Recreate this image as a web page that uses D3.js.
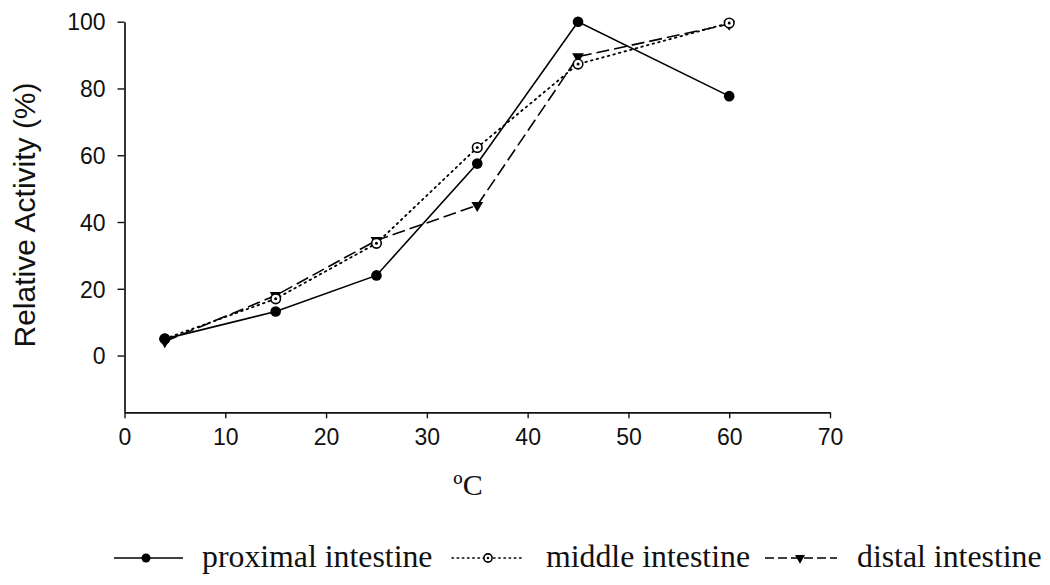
<!DOCTYPE html>
<html>
<head>
<meta charset="utf-8">
<script src="https://cdn.jsdelivr.net/npm/d3@7/dist/d3.min.js"></script>
<style>
  html, body { margin: 0; padding: 0; background: #fff; }
  svg { display: block; }
</style>
</head>
<body>
<svg id="chart" width="1050" height="585"></svg>
<script>
// Temperature (°C) at which activity was measured
const temps = [4, 15, 25, 35, 45, 60];

// Relative activity (%) for each intestinal section
const proximal = [5, 13.2, 24, 57.5, 100, 77.7];
const middle   = [5, 17, 33.6, 62.3, 87.3, 99.6];
const distal   = [4.2, 18, 34.5, 45, 89.5, 99.3];

const xTicks = [0, 10, 20, 30, 40, 50, 60, 70];
const yTicks = [0, 20, 40, 60, 80, 100];

const seriesNames = ["proximal intestine", "middle intestine", "distal intestine"];

const svg = d3.select("#chart");

const x = d3.scaleLinear().domain([0, 70]).range([124.5, 830]);
const y = d3.scaleLinear().domain([-17, 100]).range([412.3, 21.7]);

// Axes
const xAxis = svg.append("g")
  .attr("transform", `translate(0,${y(-17)})`)
  .call(d3.axisBottom(x).tickValues(xTicks).tickSize(6).tickPadding(10).tickSizeOuter(0));
const yAxis = svg.append("g")
  .attr("transform", `translate(${x(0)},0)`)
  .call(d3.axisLeft(y).tickValues(yTicks).tickSize(7).tickPadding(12).tickSizeOuter(0));

[xAxis, yAxis].forEach(g => {
  g.select(".domain").attr("stroke", "#111").attr("stroke-width", 1.7);
  g.selectAll(".tick line").attr("stroke", "#111").attr("stroke-width", 1.4);
  g.selectAll(".tick text")
    .attr("fill", "#111")
    .style("font-family", "'Liberation Sans', Arial, sans-serif")
    .style("font-size", "23px");
});
yAxis.selectAll(".tick text").attr("dy", "0.36em");

// Axis titles
svg.append("text")
  .attr("transform", `translate(35,215) rotate(-90)`)
  .attr("text-anchor", "middle")
  .style("font-family", "'Liberation Sans', Arial, sans-serif")
  .style("font-size", "30px")
  .attr("fill", "#111")
  .text("Relative Activity (%)");

svg.append("text")
  .attr("x", 468)
  .attr("y", 495)
  .attr("text-anchor", "middle")
  .style("font-family", "'Liberation Serif', 'Times New Roman', serif")
  .style("font-size", "30px")
  .attr("fill", "#111")
  .text("ºC");

// Line styles per series
const styles = [
  { values: proximal, dash: null, width: 1.6, marker: "filled" },
  { values: middle,   dash: "1.6,4.2", width: 1.8, marker: "ring" },
  { values: distal,   dash: "13,5", width: 1.6, marker: "triangle" }
];

const line = d3.line().x(d => x(d[0])).y(d => y(d[1]));

function drawMarker(g, kind, cx, cy, scale) {
  const s = scale || 1;
  if (kind === "filled") {
    g.append("circle").attr("cx", cx).attr("cy", cy).attr("r", 5.3 * s).attr("fill", "#000");
  } else if (kind === "ring") {
    g.append("circle").attr("cx", cx).attr("cy", cy).attr("r", 4.8 * s)
      .attr("fill", "#fff").attr("stroke", "#000").attr("stroke-width", 1.6);
    g.append("circle").attr("cx", cx).attr("cy", cy).attr("r", 1.5 * s).attr("fill", "#000");
  } else {
    const tri = d3.symbol().type(d3.symbolTriangle).size(60 * s * s);
    g.append("path").attr("d", tri())
      .attr("transform", `translate(${cx},${cy}) rotate(180)`)
      .attr("fill", "#000");
  }
}

// Draw lines first, then markers (triangles, rings, filled circles on top)
styles.forEach(st => {
  const pts = temps.map((t, i) => [t, st.values[i]]);
  svg.append("path")
    .datum(pts)
    .attr("d", line)
    .attr("fill", "none")
    .attr("stroke", "#000")
    .attr("stroke-width", st.width)
    .attr("stroke-dasharray", st.dash)
    .attr("stroke-linecap", st.marker === "ring" ? "round" : "butt");
});

[2, 1, 0].forEach(k => {
  const st = styles[k];
  const g = svg.append("g");
  temps.forEach((t, i) => drawMarker(g, st.marker, x(t), y(st.values[i])));
});

// Legend
const legendItems = [
  { x0: 114, x1: 183, mx: 146, tx: 202 },
  { x0: 452, x1: 522, mx: 488, tx: 546 },
  { x0: 765, x1: 837, mx: 800, tx: 857 }
];
const ly = 558;
legendItems.forEach((it, k) => {
  const st = styles[k];
  svg.append("line")
    .attr("x1", it.x0).attr("x2", it.x1).attr("y1", ly).attr("y2", ly)
    .attr("stroke", "#000")
    .attr("stroke-width", k === 1 ? 1.6 : 1.3)
    .attr("stroke-dasharray", k === 0 ? null : (k === 1 ? "1.4,3.8" : "9,4"))
    .attr("stroke-linecap", k === 1 ? "round" : "butt");
  const g = svg.append("g");
  drawMarker(g, st.marker, it.mx, ly, 0.85);
  svg.append("text")
    .attr("x", it.tx).attr("y", ly + 9)
    .style("font-family", "'Liberation Serif', 'Times New Roman', serif")
    .style("font-size", "31.8px")
    .attr("fill", "#111")
    .text(seriesNames[k]);
});
</script>
</body>
</html>
